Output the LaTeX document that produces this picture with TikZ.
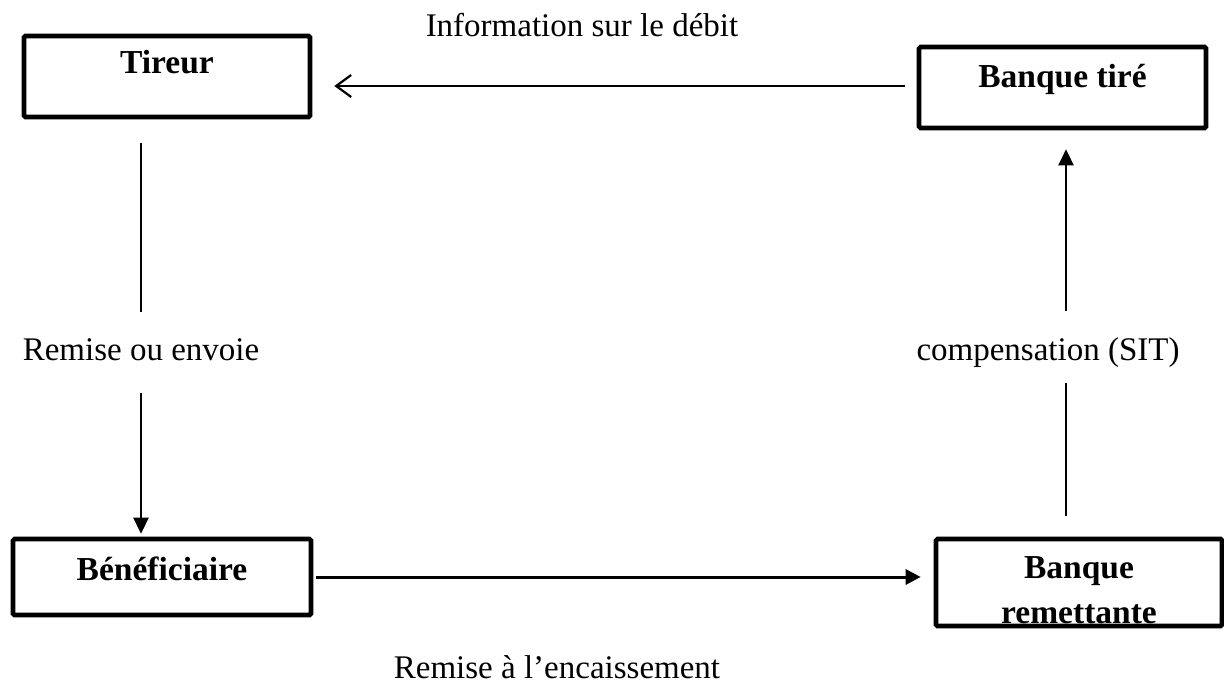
\documentclass[tikz,border=0pt]{standalone}
\usepackage{fontspec}
\setmainfont{Liberation Serif}
\usetikzlibrary{arrows.meta,calc}
\begin{document}
\begin{tikzpicture}[x=1pt,y=-1pt,
  box/.style={draw,line width=4.6pt,rounded corners=1.5pt,inner sep=0pt},
  lbl/.style={font=\fontsize{33}{40}\selectfont,inner sep=0pt,anchor=base},
  btxt/.style={font=\fontsize{33.5}{40}\selectfont\bfseries,inner sep=0pt,anchor=base},
  thinline/.style={line width=1.7pt},
  arrline/.style={line width=2.6pt,-{Triangle[length=16pt,width=15pt]}},
  openarr/.style={line width=2.2pt,-{Straight Barb[length=15pt,width=22pt,line width=2.2pt]}}
]
\useasboundingbox (0,0) rectangle (1224,691);
% box texts (drawn first so borders lie over them)
\node[btxt] (ttireur) at (167,73) {Tireur};
\node[btxt] (ttire) at (1062.5,87) {Banque tiré};
\node[btxt] (tbenef) at (162,580) {Bénéficiaire};
\node[btxt] (tremet1) at (1079,578) {Banque};
\node[btxt] (tremet2) at (1079,623) {remettante};
% boxes
\node[box,minimum width=286pt,minimum height=81pt] (tireur) at (167,76.5) {};
\node[box,minimum width=287pt,minimum height=81pt] (tire) at (1062.5,87.5) {};
\node[box,minimum width=298pt,minimum height=76pt] (benef) at (162,577) {};
\node[box,minimum width=286pt,minimum height=87pt] (remet) at (1079,582.5) {};
% labels
\node[lbl] (info) at (582,36) {Information sur le débit};
\node[lbl] (remise) at (141,360) {Remise ou envoie};
\node[lbl] (comp) at (1048,360) {compensation (SIT)};
\node[lbl] (encais) at (557,678) {Remise à l’encaissement};
% connectors
\draw[openarr,shorten <=12pt,shorten >=22pt] (tire.west |- 0,86) -- (tireur.east |- 0,86);
\draw[thinline,shorten <=24pt,shorten >=26pt] (tireur.south -| remise.base) -- (remise.north);
\draw[arrline,shorten <=32pt,shorten >=3pt] (remise.south) -- (benef.north -| remise.base);
\draw[line width=3pt,-{Triangle[length=15pt,width=15pt]},shorten <=3pt,shorten >=13pt] (benef.east) -- (remet.west |- benef.east);
\draw[thinline,shorten <=21pt,shorten >=16pt] ($(tire.south |- remet.north)+(3.5,0)$) -- ($(tire.south |- comp.south)+(3.5,0)$);
\draw[arrline,shorten <=26pt,shorten >=19pt] ($(tire.south |- comp.north)+(3.5,0)$) -- ($(tire.south)+(3.5,0)$);
\end{tikzpicture}
\end{document}
